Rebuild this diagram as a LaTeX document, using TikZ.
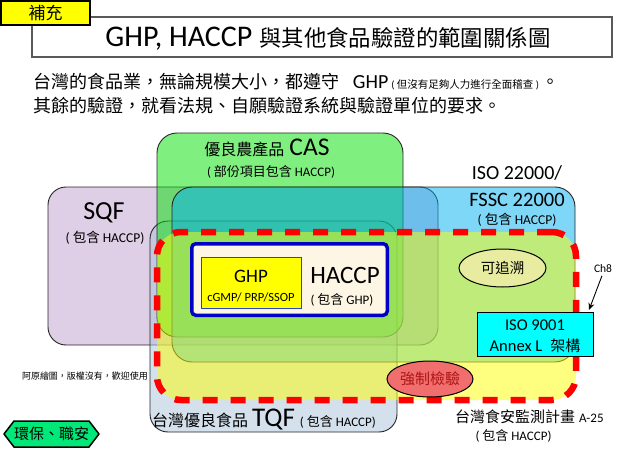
\documentclass[tikz,border=0pt]{standalone}
\usepackage{fontspec}
\setmainfont{Carlito}
\newfontfamily\cjk{Noto Sans CJK TC}
\usetikzlibrary{arrows.meta,shapes.geometric}
\newcommand\fsz[1]{\fontsize{#1}{#1}\selectfont}
\definecolor{lav}{RGB}{222,206,230}
\definecolor{casg}{RGB}{0,224,0}
\definecolor{isob}{RGB}{0,176,240}
\definecolor{tqfc}{RGB}{170,195,218}
\definecolor{yel}{RGB}{255,255,0}
\definecolor{cream}{RGB}{253,246,228}
\definecolor{hblue}{RGB}{0,0,200}
\definecolor{gblue}{RGB}{40,70,200}
\definecolor{khaki}{RGB}{232,236,160}
\definecolor{salmon}{RGB}{240,110,110}
\definecolor{darkred}{RGB}{175,20,20}
\definecolor{hexg}{RGB}{0,232,120}
\definecolor{cyanbox}{RGB}{0,255,255}
\begin{document}
\begin{tikzpicture}[x=1pt,y=-1pt,
  region/.style={draw=black!85, line width=0.9pt, rounded corners=18pt, inner sep=0pt},
  lbl/.style={inner sep=0pt, outer sep=0pt, text=black},
]
\useasboundingbox (0,0) rectangle (638,452);
\fill[white] (0,0) rectangle (638,452);

% header
\node[draw=black!65, line width=1.3pt, minimum width=580pt, minimum height=40pt, inner sep=0pt] (titlebox) at (322,37) {};
\node[draw=black, line width=1.1pt, fill=yel, minimum width=89pt, minimum height=24pt, inner sep=0pt] (tag) at (45.5,13) {};
\node[lbl] (taglbl) at (tag.center) {\cjk\fsz{17}補充};
\node[lbl] (title) at (328,39) {\fsz{30}GHP, HACCP\hspace{7pt}{\cjk\fsz{22.4}與其他食品驗證的範圍關係圖}};
\node[lbl, anchor=base west] (line1) at (34,88.8) {{\cjk\fsz{18}台灣的食品業，無論規模大小，都遵守}\hspace{13pt}{\fsz{20}GHP}\hspace{3pt}{\fsz{10.5}( {\cjk 但沒有足夠人力進行全面稽查} )}\hspace{2pt}{\cjk\fsz{18}。}};
\node[lbl, anchor=base west] (line2) at (34,112.8) {\cjk\fsz{18}其餘的驗證，就看法規、自願驗證系統與驗證單位的要求。};

% regions
\node[region, fill=lav, minimum width=390pt, minimum height=158pt] (sqf) at (243,266) {};
\node[region, fill=tqfc, fill opacity=0.5, minimum width=247pt, minimum height=211pt] (tqf) at (273.5,326.5) {};
\node[region, fill=casg, fill opacity=0.5, rounded corners=20pt, minimum width=246pt, minimum height=204pt] (cas) at (280,235) {};
\node[region, fill=isob, fill opacity=0.5, rounded corners=20pt, minimum width=403pt, minimum height=175pt] (iso) at (373.5,274.5) {};
\node[draw=red, line width=6.5pt, dash pattern=on 15pt off 13pt, fill=yel, fill opacity=0.5, rounded corners=24pt, minimum width=419pt, minimum height=168pt, inner sep=0pt] (monitor) at (366.5,316) {};

% HACCP / GHP
\node[draw=hblue, line width=3.5pt, fill=cream, rounded corners=4pt, minimum width=195.5pt, minimum height=71.5pt, inner sep=0pt] (haccp) at (289.5,279.5) {};
\node[draw=gblue, line width=1pt, fill=yel, minimum width=100pt, minimum height=51pt, inner sep=0pt] (ghp) at (251,282.5) {};
\node[lbl] (ghpl) at (251,276) {\fsz{19}GHP};
\node[lbl] (ghps) at (251,297) {\fsz{12.5}cGMP/ PRP/SSOP};
\node[lbl] (haccpl) at (345,275) {\fsz{25}HACCP};
\node[lbl] (haccps) at (342,300) {\fsz{13}( {\cjk 包含} GHP)};

% region labels
\node[lbl] (sqfl) at (104,213) {\fsz{26}SQF};
\node[lbl] (sqfs) at (105,238) {\fsz{13.5}( {\cjk 包含} HACCP)};
\node[lbl, anchor=base] (casl) at (267,156) {{\cjk\fsz{16}優良農產品}\hspace{5pt}{\fsz{25.5}CAS}};
\node[lbl] (cass) at (271,172) {\fsz{13}( {\cjk 部份項目包含} HACCP)};
\node[lbl] (isol1) at (517,173) {\fsz{20}ISO 22000/};
\node[lbl] (isol2) at (517,200) {\fsz{20.5}FSSC 22000};
\node[lbl] (isos) at (517,220) {\fsz{13.5}( {\cjk 包含} HACCP)};
\node[lbl, anchor=base west] (tqfl) at (152,426) {{\cjk\fsz{16}台灣優良食品}\hspace{4pt}{\fsz{27}TQF}\hspace{5pt}{\fsz{13}( {\cjk 包含} HACCP)}};
\node[lbl, anchor=base west] (monl) at (455,422) {{\cjk\fsz{15}台灣食安監測計畫}\hspace{4pt}{\fsz{13}A-25}};
\node[lbl] (mons) at (513.5,436) {\fsz{13}( {\cjk 包含} HACCP)};

% ellipses
\node[ellipse, draw=black, line width=1pt, fill=khaki, minimum width=87pt, minimum height=38pt, inner sep=0pt] (trace) at (502.5,268) {\cjk\fsz{14.5}可追溯};
\node[ellipse, draw=black, line width=1pt, fill=salmon, minimum width=86pt, minimum height=36pt, inner sep=0pt, text=darkred] (inspect) at (430,379) {\cjk\fsz{15}強制檢驗};

% ISO 9001
\node[draw=black, line width=1pt, fill=cyanbox, minimum width=116pt, minimum height=44pt, inner sep=0pt] (iso9001) at (535,334) {};
\node[lbl] (iso9l1) at (535,325) {\fsz{16.5}ISO 9001};
\node[lbl] (iso9l2) at (535,346) {\fsz{16.5}Annex L\hspace{8pt}{\cjk\fsz{15}架構}};

% Ch8 pointer
\node[lbl] (ch8) at (603,269) {\fsz{11.5}Ch8};
\coordinate (chtip) at (589,310);
\draw[line width=0.9pt, -{Stealth[length=7pt,width=6pt]}, shorten <=3pt] (ch8.south) -- (chtip);

% footer items
\node[lbl, anchor=west] (copyr) at (22,376) {\cjk\fsz{9}阿原繪圖，版權沒有，歡迎使用};
\draw[fill=hexg, line width=1.5pt, line join=round] (4,434) -- (14,421) -- (89,421) -- (99,434) -- (89,447) -- (14,447) -- cycle;
\node[lbl] (envsafe) at (51.5,434) {\cjk\fsz{15}環保、職安};
\end{tikzpicture}
\end{document}
